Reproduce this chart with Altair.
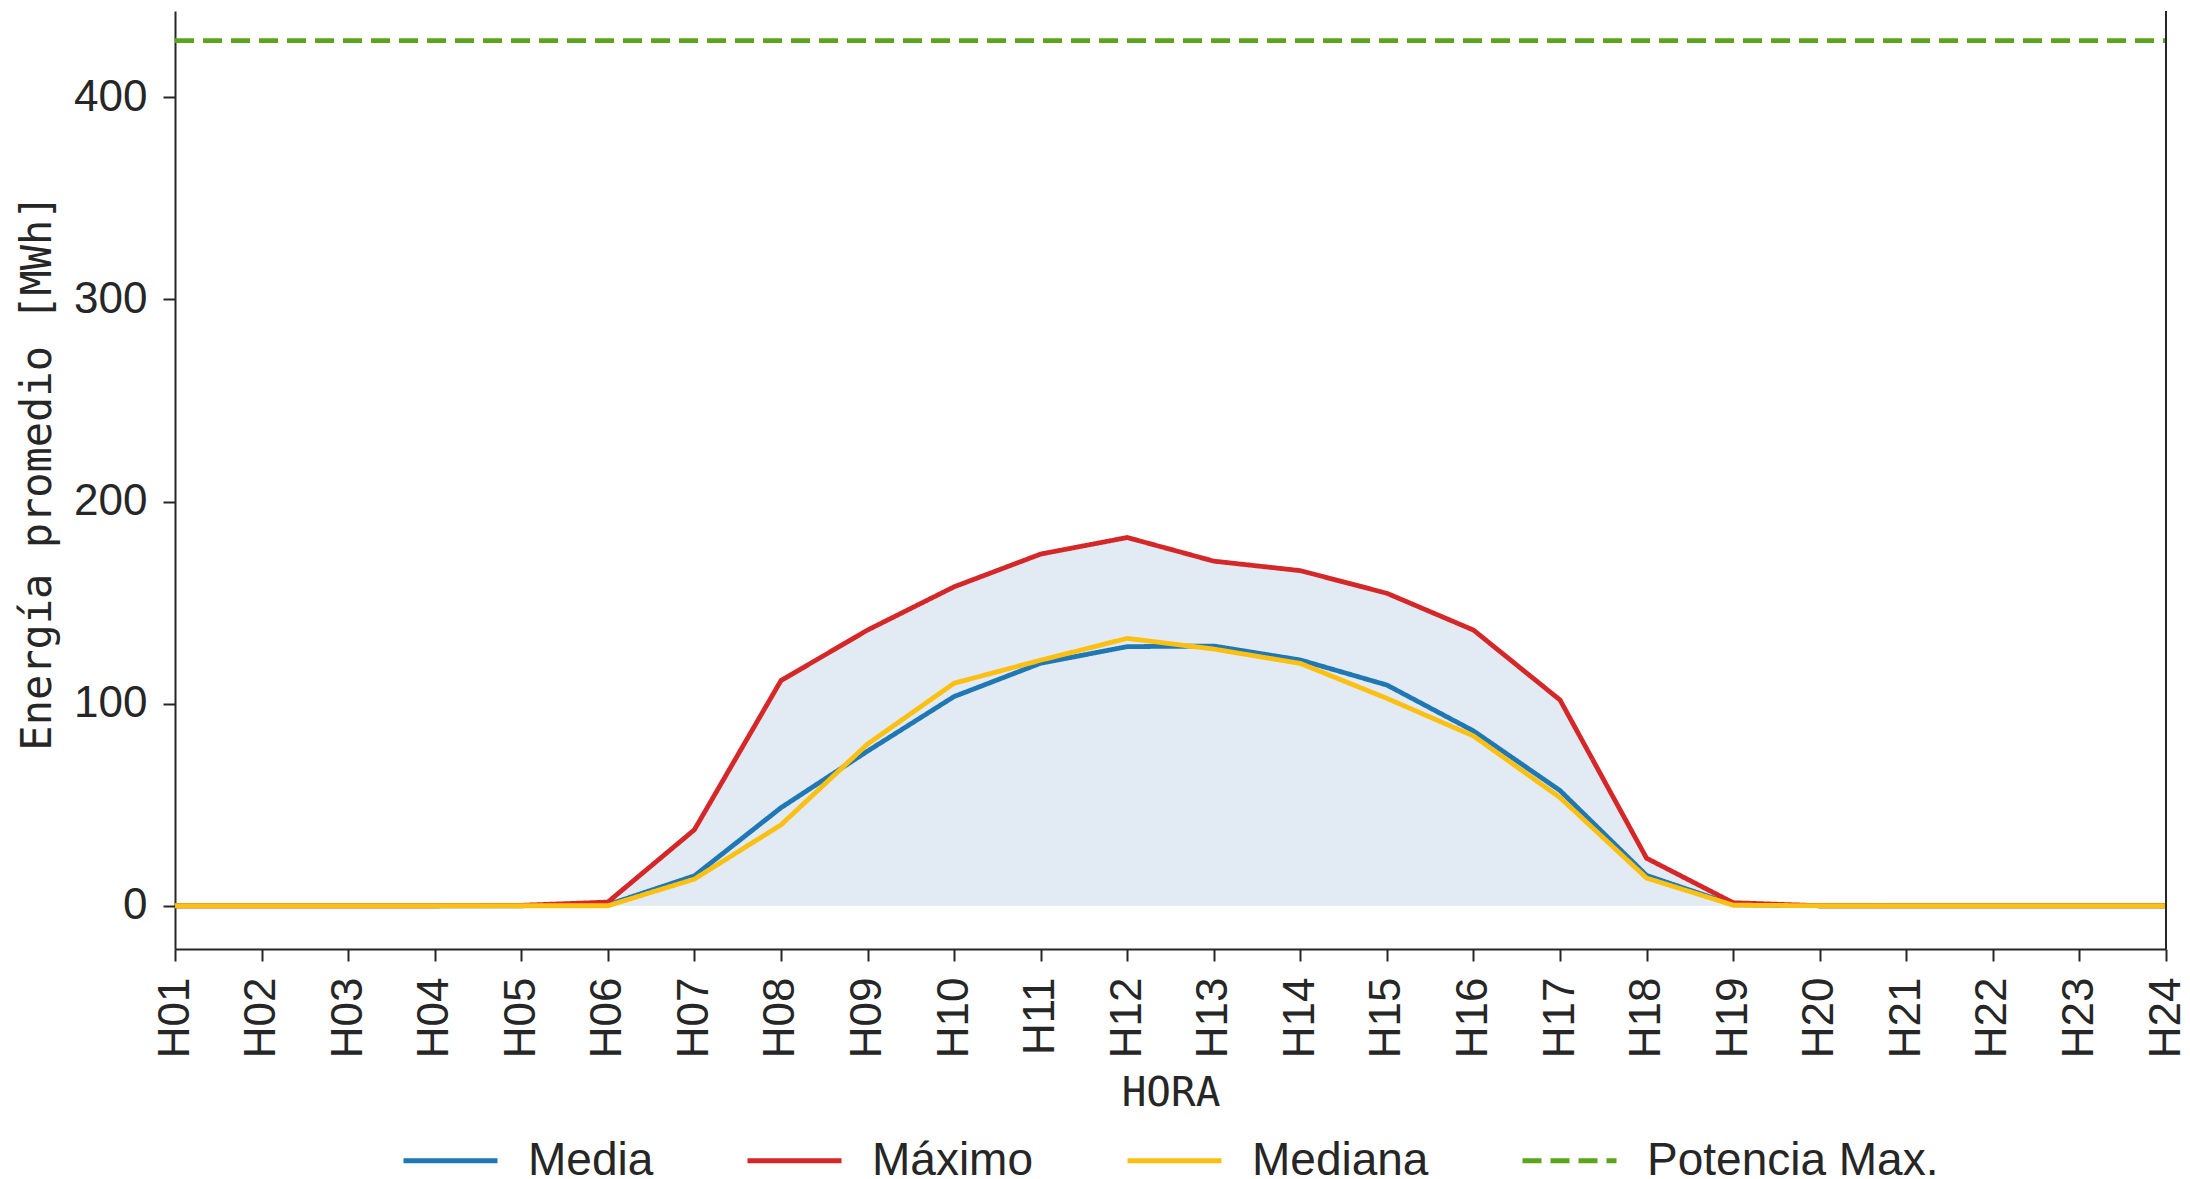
import altair as alt
import pandas as pd

# Horas del día
horas = ["H01", "H02", "H03", "H04", "H05", "H06", "H07", "H08",
         "H09", "H10", "H11", "H12", "H13", "H14", "H15", "H16",
         "H17", "H18", "H19", "H20", "H21", "H22", "H23", "H24"]

# Energía por hora [MWh]
media = [0, 0, 0, 0, 0, 0.5, 14.8, 48.5, 76.5, 103.5, 120.0, 128.2,
         128.5, 121.6, 109.2, 86.5, 57.0, 15.0, 0.5, 0, 0, 0, 0, 0]
maximo = [0, 0, 0, 0, 0.2, 1.8, 37.6, 111.4, 136.4, 157.8, 174.0, 182.2,
          170.5, 165.8, 154.6, 136.4, 101.8, 23.5, 1.5, 0, 0, 0, 0, 0]
mediana = [0, 0, 0, 0, 0, 0, 13.2, 40.0, 80.0, 110.1, 121.5, 132.3,
           127.0, 119.9, 102.6, 84.0, 53.5, 13.7, 0.3, 0, 0, 0, 0, 0]
potencia_max = 428

series = ["Media", "Máximo", "Mediana", "Potencia Max."]
colores = ["#1f77b4", "#d62728", "#fbc012", "#5ba41c"]
trazos = [[1, 0], [1, 0], [1, 0], [19, 9]]

dominio_y = [-21.4, 442.7]
texto = "#262626"

valores = {
    "Media": media,
    "Máximo": maximo,
    "Mediana": mediana,
    "Potencia Max.": [potencia_max] * len(horas),
}

largo = pd.DataFrame(
    [{"hora": h, "serie": s, "energia": v}
     for s in series for h, v in zip(horas, valores[s])]
)
banda = pd.DataFrame({"hora": horas, "maximo": maximo})

eje_x = alt.Axis(
    title="HORA", labelAngle=270, labelFont="Liberation Sans", labelFontSize=44,
    labelColor=texto, labelPadding=16, labelOverlap=False, labelFlush=False,
    tickSize=12, tickWidth=2, tickColor=texto, domainWidth=2, domainColor=texto,
    grid=False, titleFont="DejaVu Sans Mono", titleFontSize=41,
    titleFontWeight="normal", titleColor=texto, titleX=995.5, titleY=156,
    titleBaseline="alphabetic", titleAlign="center",
)
eje_y = alt.Axis(
    title="Energía promedio [MWh]", values=[0, 100, 200, 300, 400],
    labelFont="Liberation Sans", labelFontSize=44, labelColor=texto,
    labelPadding=16, tickSize=12, tickWidth=2, tickColor=texto,
    domainWidth=2, domainColor=texto, grid=False,
    titleFont="DejaVu Sans Mono", titleFontSize=42, titleFontWeight="normal",
    titleColor=texto, titleAngle=270, titleX=-125, titleY=461,
    titleBaseline="alphabetic", titleAlign="center",
)

x_enc = alt.X("hora:O", scale=alt.Scale(type="point", domain=horas, padding=0), axis=eje_x)
escala_y = alt.Scale(domain=dominio_y, nice=False, zero=False)

leyenda = alt.Legend(
    title=None, orient="none", legendX=226, legendY=1100, direction="horizontal",
    columns=4, columnPadding=83, rowPadding=0, padding=0,
    symbolType="stroke", symbolSize=8836, symbolStrokeWidth=5,
    labelFont="Liberation Sans", labelFontSize=46, labelColor=texto,
    labelOffset=28, labelLimit=500,
)
color_enc = alt.Color("serie:N", scale=alt.Scale(domain=series, range=colores), legend=leyenda)
dash_enc = alt.StrokeDash("serie:N", scale=alt.Scale(domain=series, range=trazos), legend=leyenda)

# Banda sombreada entre cero y el máximo
area = alt.Chart(banda).mark_area(color="#e2eaf3").encode(
    x=x_enc,
    y=alt.Y("maximo:Q", scale=escala_y, axis=eje_y),
    y2=alt.datum(0),
)

capas = [area]
for s in series:
    capas.append(
        alt.Chart(largo).transform_filter(alt.datum.serie == s).mark_line(strokeWidth=4.8).encode(
            x=x_enc,
            y=alt.Y("energia:Q", scale=escala_y, axis=eje_y),
            color=color_enc,
            strokeDash=dash_enc,
        )
    )

# Borde derecho del área de trazado
borde = alt.Chart(banda).mark_rule(color=texto, strokeWidth=2).encode(
    x=alt.datum("H24"),
    y=alt.datum(dominio_y[1]),
    y2=alt.datum(dominio_y[0]),
)
capas.append(borde)

chart = alt.layer(*capas).properties(
    width=1991,
    height=938,
    padding={"left": 175, "top": 11, "right": 24, "bottom": 230},
    autosize=alt.AutoSizeParams(type="none"),
    background="white",
).configure_view(strokeWidth=0)

chart.save("out.html", embed_options={"renderer": "svg", "actions": False})
